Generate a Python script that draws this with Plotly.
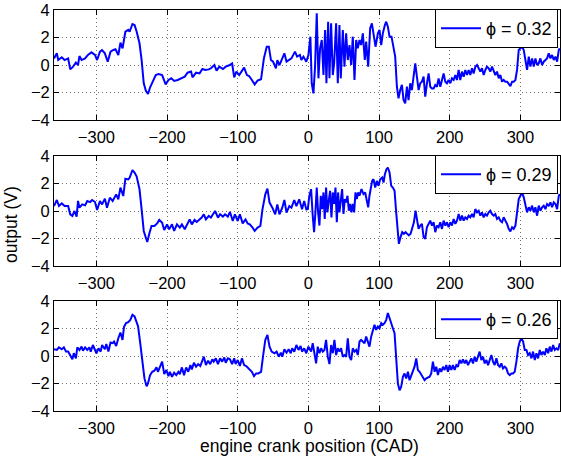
import plotly.graph_objects as go

# (crank angle CAD, output V) readings for each equivalence ratio
phi_labels = ["ϕ = 0.32", "ϕ = 0.29", "ϕ = 0.26"]

signal_032 = [
(-360,0.48),(-356,0.85),(-354,0.36),(-349,0.56),(-345,0.36),(-340,0.48),(-337,-0.32),(-333,-0.12),(-329,0.17),(-326,0),(-324,0.65),(-321,0.36),(-316,0.48),(-312,0.73),(-307,0.92),(-302,0.73),(-299,0.36),(-295,0.97),(-292,1.09),(-288,0.85),(-284,0.24),(-280,0.97),(-276,1.09),(-273,1.14),(-269,0.73),(-266,1.62),(-263,1.21),(-259,2.42),(-255,2.55),(-253,2.42),(-249,2.98),(-246,2.91),(-243,2.42),(-239,1.58),(-236,0.36),(-233,-1.33),(-230,-1.87),(-227,-2.11),(-224,-1.62),(-220,-1.21),(-216,-0.73),(-212,-0.65),(-207,-0.73),(-202,-1.41),(-198,-1.09),(-194,-0.97),(-190,-1.16),(-185,-1.09),(-180,-0.97),(-175,-0.85),(-171,-0.56),(-166,-0.48),(-164,-0.9),(-159,-0.56),(-154,-0.61),(-150,-0.29),(-146,-0.36),(-141,-0.32),(-138,-0.24),(-133,0),(-130,-0.41),(-126,-0.12),(-121,-0.29),(-117,-0.12),(-112,-0.02),(-108,0.12),(-105,-0.9),(-102,-0.48),(-98,-0.73),(-94,-0.36),(-91,-0.19),(-87,-0.73),(-84,-0.8),(-80,-1.09),(-76,-1.41),(-72,-1.14),(-67,-1.04),(-63,0.48),(-59,1.33),(-56,1.33),(-53,0.36),(-50,0.24),(-46,-0.24),(-44,0.36),(-41,0),(-38,0.36),(-34,0.85),(-31,0.24),(-27,0.41),(-24,0.48),(-19,0.97),(-16,0.61),(-12,0.73),(-10,0.36),(-7,0.61),(-3,0.24),
(0,0.73),(2.8,2.06),(4.7,-1.33),(7.1,-2.06),(9.4,-0.12),(11.8,3.76),(14.2,-0.97),(16.5,1.21),(18.9,1.82),(21.3,-0.73),(23.6,2.55),(25.5,-1.33),(27.9,3.15),(29.8,-0.97),(32.1,3.03),(34.5,-0.73),(36.4,0.12),(39.2,3.03),(41.6,-1.33),(43.9,2.91),(45.8,-0.97),(48.7,2.55),(51,-0.12),(53.4,2.3),(55.7,0.36),(58.1,1.45),(60.5,0),(62.8,2.06),(65.2,-1.09),(67.6,1.82),(69.9,1.21),(72.3,1.82),(74.6,1.45),(77,2.3),(79.8,0.36),(81.7,1.7),(84.6,-0.12),(87.4,2.67),(89.8,3.03),(92.1,2.18),(95,1.33),(98.3,2.3),(100.6,2.55),(103,1.45),(105.3,2.3),(108.2,2.91),(110.1,3.15),(112.4,2.79),(114.8,2.06),(117.6,2.06),(120.5,1.09),(122.8,0.61),(125.2,-1.58),(127.5,-2.42),(129.9,-1.82),(132.3,-1.45),(134.6,-2.55),(137,-2.79),(139.4,-1.58),(141.7,-2.55),(144.1,-1.33),(146.4,-1.82),(148.8,-0.85),(151.2,0.12),(153.5,-0.85),(155.9,-1.82),(158.3,-1.33),(160.6,-1.21),(163,-0.85),(165.3,-2.3),(167.7,-1.33),(170.1,-0.61),(172.4,-1.58),(174.8,-1.7),(177.2,-1.7),(179.5,-1.45),(181.9,-1.58),(184.2,-0.97),(186.6,-1.58),(189,-1.09),(191.3,-0.61),(193.7,-1.21),(196,-1.33),(198.4,-1.09),(200.8,-1.33),(203.1,-0.97),(205.5,-1.09),(207.9,-0.73),(210.2,-1.09),(212.6,-0.36),(214.9,-1.09),(217.3,-0.48),(219.7,-0.85),(222,-0.36),(224.4,-0.73),(226.7,-0.36),(229.1,-0.73),(231.5,-0.24),(233.8,-0.61),(236.2,-0.12),(238.6,0),(240.9,-0.24),(243.3,-0.48),(245.6,-0.24),(248,-0.73),(250.4,-0.36),(252.7,-0.12),(255.1,-0.24),(257.4,-0.48),(259.8,-0.12),(262.2,-0.48),(264.5,-0.73),(266.9,-0.48),(269.3,-0.97),(271.6,-0.73),(274,-1.21),(276.3,-1.09),(278.7,-1.21),(281.1,-1.21),(283.4,-1.33),(285.8,-1.53),(288.2,-1.21),(290.5,-1.21),(292.9,-1.09),(295.2,-0.36),(297.6,1.09),(300,1.21),(302.3,1.33),(304.7,1.09),(307,0.24),(309.4,-0.36),(311.8,0.61),(314.1,-0.12),(316.5,0.48),(318.9,-0.12),(321.2,0.48),(323.6,0),(325.9,0.12),(328.3,0.48),(330.7,0),(333,0.24),(335.4,0.36),(337.7,0.48),(340.1,0.85),(342.5,0.48),(344.8,0.73),(347.2,0.36),(349.6,0.61),(351.9,0.24),(354.3,1.09),(355.7,1.21),
]

signal_029 = [
(-360,0.36),(-356,0.8),(-353,0.36),(-349,0.56),(-345,0.36),(-340,0.36),(-337,-0.24),(-334,-0.36),(-331,0),(-328,-0.41),(-326,0.73),(-324,0.24),(-320,0.48),(-316,0.41),(-313,0.73),(-309,0.65),(-306,0.8),(-302,0.65),(-299,0.07),(-295,0.73),(-292,0.48),(-288,0.9),(-285,0.24),(-281,0.97),(-277,0.73),(-274,1.09),(-272,1.21),(-269,0.85),(-266,1.7),(-262,1.09),(-259,2.35),(-255,2.3),(-253,2.42),(-249,2.98),(-246,2.79),(-243,2.5),(-239,1.58),(-236,0.12),(-233,-1.45),(-230,-1.94),(-228,-2.25),(-225,-1.62),(-222,-1.09),(-218,-1.09),(-214,-0.9),(-211,-0.65),(-207,-0.85),(-204,-1.38),(-200,-0.97),(-197,-1.33),(-193,-0.97),(-190,-1.45),(-186,-0.97),(-182,-1.21),(-179,-0.97),(-175,-1.33),(-172,-0.97),(-168,-0.61),(-165,-0.97),(-161,-0.65),(-158,-0.8),(-154,-0.61),(-151,-0.48),(-148,-0.24),(-145,-0.61),(-141,-0.36),(-138,-0.48),(-135,-0.24),(-132,0),(-128,-0.48),(-125,-0.24),(-121,-0.41),(-118,-0.24),(-114,-0.41),(-111,-0.07),(-107,-0.73),(-104,-0.24),(-100,-0.73),(-97,-0.24),(-93,-0.9),(-89,-0.61),(-86,-0.9),(-83,-0.97),(-79,-1.21),(-76,-1.45),(-72,-1.21),(-68,-1.09),(-65,0.12),(-61,1.21),(-58,1.62),(-55,0.61),(-51,0.24),(-47,-0.24),(-44,0.48),(-41,-0.24),(-37,0.24),(-34,0.8),(-31,-0.12),(-27,0.36),(-24,0.24),(-20,0.8),(-17,0.36),(-13,0.85),(-9,0.12),(-6,0.73),(-3,0.12),
(-0.9,0.14),(1.4,1.11),(3.8,1.59),(6.1,-0.34),(8,-1.54),(9.9,-0.1),(11.8,1.71),(13.7,-0.1),(15.6,-1.06),(17.5,1.11),(19.4,0.14),(21.3,1.35),(23.1,-0.58),(25,1.71),(26.9,-0.1),(28.8,0.75),(30.7,1.47),(32.6,-0.46),(34.5,1.35),(36.4,0.51),(38.3,1.71),(40.2,-0.82),(42,1.35),(43.9,-0.1),(45.8,0.87),(47.7,1.59),(49.6,-0.22),(51.5,0.87),(53.4,0.63),(55.3,1.11),(57.2,0.02),(59,0.51),(60.9,-0.1),(62.8,0.51),(64.7,-0.1),(66.6,1.35),(68.5,0.87),(70.4,1.35),(72.3,1.11),(75.1,1.59),(77.9,1.23),(80.3,1.35),(82.7,0.75),(84.6,0.27),(86.4,1.11),(88.3,1.83),(90.2,2.19),(92.1,2.31),(94.5,1.71),(96.8,2.19),(99.2,1.83),(101.6,2.31),(104.4,2.43),(106.3,2.07),(108.2,2.67),(110.5,3.04),(112.4,3.16),(114.8,2.8),(117.2,1.83),(119.5,1.71),(121.9,1.47),(124.2,-0.1),(126.6,-2.02),(128,-2.39),(130.4,-1.9),(132.7,-1.54),(135.1,-1.66),(137.5,-1.54),(139.8,-1.66),(142.2,-1.78),(144.6,-1.66),(146.9,-1.18),(149.3,-0.82),(151.6,0.02),(153.5,-0.58),(155.9,-1.3),(158.3,-1.06),(160.6,-0.94),(163,-1.9),(165.3,-2.02),(167.7,-1.18),(170.1,-0.94),(172.4,-0.7),(174.8,-1.06),(177.2,-0.82),(179.5,-1.54),(181.9,-1.06),(184.2,-1.18),(186.6,-0.82),(189,-1.3),(191.3,-0.7),(193.7,-1.06),(196,-0.82),(198.4,-1.18),(200.8,-0.82),(203.1,-1.06),(205.5,-0.58),(207.9,-0.94),(210.2,-0.7),(212.6,-0.22),(214.9,-0.7),(217.3,-0.34),(219.7,-0.7),(222,-0.46),(224.4,-0.58),(226.7,-0.34),(229.1,-0.46),(231.5,-0.22),(233.8,-0.46),(236.2,0.14),(238.6,-0.1),(240.9,0.02),(243.3,-0.34),(245.6,-0.1),(248,-0.46),(250.4,-0.22),(252.7,-0.34),(255.1,-0.1),(257.4,0.02),(259.8,-0.22),(262.2,-0.34),(264.5,-0.22),(266.9,-0.58),(269.3,-0.46),(271.6,-0.7),(274,-0.82),(276.3,-0.46),(278.7,-0.7),(281.1,-0.94),(283.4,-1.3),(285.8,-1.49),(288.2,-1.18),(290.5,-1.3),(292.9,-1.06),(295.2,0.14),(297.6,0.87),(300,1.11),(302.3,1.35),(304.7,0.99),(307,0.39),(309.4,-0.1),(311.8,0.27),(314.1,0.02),(316.5,0.39),(318.9,-0.1),(321.2,0.27),(323.6,-0.34),(325.9,0.39),(328.3,0.02),(330.7,0.27),(333,0.39),(335.4,0.14),(337.7,0.51),(340.1,0.39),(342.5,0.63),(344.8,0.27),(347.2,0.63),(349.6,0.51),(351.9,0.14),(354.3,1.11),(355.7,1.23),
]

signal_026 = [
(-360,0.49),(-356,0.44),(-353,0.63),(-349,0.49),(-346,0.63),(-343,0.32),(-340,0.32),(-337,0.07),(-334,-0.24),(-332,0.2),(-329,-0.17),(-327,0.63),(-324,0.44),(-321,0.68),(-319,0.39),(-316,0.63),(-313,0.44),(-310,0.63),(-308,0.32),(-305,0.8),(-302,0.44),(-300,0.2),(-297,0.56),(-294,0.32),(-292,0.8),(-288,0.49),(-286,0.88),(-283,0.32),(-280,0.98),(-277,0.93),(-275,1.05),(-272,0.73),(-269,1.29),(-266,1.71),(-263,1.17),(-261,2.1),(-258,2.39),(-255,2.46),(-252,2.63),(-249,3.0),(-246,2.88),(-244,2.59),(-241,2.15),(-238,0.93),(-235,-0.54),(-232,-1.63),(-229,-2.2),(-227,-2.0),(-224,-1.39),(-221,-1.15),(-218,-1.07),(-215,-0.83),(-213,-1.15),(-210,-0.78),(-207,-0.41),(-204,-1.32),(-201,-1.02),(-198,-1.46),(-196,-1.15),(-193,-1.51),(-190,-1.22),(-187,-1.39),(-184,-1.15),(-182,-1.32),(-179,-0.83),(-176,-1.39),(-173,-0.83),(-170,-1.15),(-167,-0.66),(-165,-0.98),(-162,-0.49),(-159,-0.78),(-156,-0.59),(-153,-0.73),(-151,-0.41),(-148,-0.05),(-145,-0.66),(-142,-0.34),(-139,-0.59),(-136,-0.24),(-134,-0.41),(-131,-0.17),(-128,-0.59),(-125,-0.17),(-122,-0.41),(-119,-0.1),(-117,-0.49),(-114,-0.17),(-111,-0.24),(-108,-0.59),(-105,-0.17),(-103,-0.59),(-100,-0.29),(-97,-0.73),(-94,-0.17),(-91,-0.66),(-88,-0.73),(-86,-0.83),(-83,-1.02),(-80,-1.15),(-77,-1.46),(-74,-1.27),(-71,-1.27),(-67,-1.15),(-64,0.07),(-61,1.17),(-58,1.54),(-55,0.68),(-52,0.32),(-48,0.2),(-45,0.32),(-42,-0.05),(-39,0.24),(-37,-0.05),(-34,0.49),(-31,0.24),(-28,0.49),(-25,0.2),(-23,0.56),(-20,0.32),(-17,0.8),(-14,0.44),(-11,0.73),(-9,0.32),(-6,0.56),(-3,0.2),(0,0.68),
(1.4,0.56),(3.8,0.32),(6.1,0.93),(8.5,0.2),(10.9,-0.54),(13.2,0.68),(15.6,0.2),(18,0.56),(20.3,0.32),(22.7,0.44),(25,1.17),(27.4,-0.05),(29.8,-0.59),(32.1,0.8),(34.5,0.2),(36.8,1.17),(39.2,0.07),(41.6,0.56),(43.9,0.32),(46.3,0.56),(48.7,-0.05),(51,0.07),(53.4,-0.05),(55.7,1.29),(58.1,-0.05),(60.5,-0.29),(62.8,0.56),(65.2,0.32),(67.6,0.44),(69.9,0.07),(72.3,1.05),(74.6,1.17),(77,1.05),(79.4,0.93),(81.7,1.41),(84.1,0.93),(86.4,0.68),(88.8,1.41),(91.2,1.78),(93.5,2.27),(95.9,1.9),(98.3,2.15),(100.6,2.02),(103,2.39),(105.3,2.27),(107.7,2.39),(110.1,2.63),(112.4,3.12),(114.8,2.76),(117.2,2.27),(119.5,2.02),(121.9,1.66),(124.2,-0.29),(126.6,-2.0),(129,-2.49),(131.3,-2.24),(133.7,-1.51),(136,-1.27),(138.4,-1.63),(140.8,-1.15),(143.1,-1.76),(145.5,-1.39),(147.9,-1.15),(150.2,-0.78),(152.6,-0.17),(154.9,-1.02),(157.3,-1.15),(159.7,-1.39),(162,-1.51),(164.4,-1.76),(166.8,-1.63),(169.1,-1.56),(171.5,-1.51),(173.8,-1.27),(176.2,-0.41),(178.6,-1.15),(180.9,-0.78),(183.3,-1.39),(185.7,-0.9),(188,-1.15),(190.4,-0.78),(192.7,-1.02),(195.1,-0.66),(197.5,-1.15),(199.8,-0.66),(202.2,-1.02),(204.5,-0.66),(206.9,-1.02),(209.3,-0.66),(211.6,-0.78),(214,-0.29),(216.4,-0.54),(218.7,-0.24),(221.1,-0.54),(223.4,-0.29),(225.8,-0.66),(228.2,-0.41),(230.5,-0.17),(232.9,-0.54),(235.3,-0.05),(237.6,-0.41),(240,0.07),(242.3,0.32),(244.7,-0.29),(247.1,-0.05),(249.4,-0.54),(251.8,-0.29),(254.2,-0.66),(256.5,-0.29),(258.9,0.07),(261.2,-0.41),(263.6,-0.66),(266,-0.17),(268.3,-0.66),(270.7,-0.78),(273,-0.54),(275.4,-0.9),(277.8,-0.78),(280.1,-0.9),(282.5,-1.27),(284.9,-1.39),(287.2,-1.27),(289.6,-1.27),(291.9,-1.15),(294.3,-0.41),(296.7,0.56),(299,1.05),(301.4,1.29),(303.8,1.05),(306.1,0.44),(308.5,0.44),(310.8,0.07),(313.2,0.2),(315.6,-0.17),(317.9,0.32),(320.3,-0.29),(322.7,0.2),(325,-0.17),(327.4,0.44),(329.7,0.07),(332.1,0.32),(334.5,0.07),(336.8,0.56),(339.2,0.2),(341.5,0.68),(343.9,0.32),(346.3,0.8),(348.6,0.44),(351,0.56),(353.4,0.44),(355.7,0.93),
]

x_ticks = [-300, -200, -100, 0, 100, 200, 300]
y_ticks = [-4, -2, 0, 2, 4]
x_title = "engine crank position (CAD)"
y_title = "output (V)"

FONT = "Liberation Sans, Arial, sans-serif"
W, H = 561, 457
L, R, T, B = 54, 1, 10, 46
plot_w = W - L - R
plot_h = H - T - B

def frac(top_px, bottom_px):
    return [(H - B - bottom_px) / plot_h, (H - B - top_px) / plot_h]

panels_px = [(10, 120), (156, 266), (301, 411)]
series = [signal_032, signal_029, signal_026]
legend_names = ["legend", "legend2", "legend3"]

fig = go.Figure()
layout = dict(
    template="none",
    width=W, height=H,
    margin=dict(l=L, r=R, t=T, b=B, autoexpand=False),
    paper_bgcolor="white", plot_bgcolor="white",
    font=dict(family=FONT, size=17, color="black"),
    showlegend=True,
)

for i, (sig, name, lg) in enumerate(zip(series, phi_labels, legend_names)):
    xs = [p[0] for p in sig]
    ys = [p[1] for p in sig]
    ax = "" if i == 0 else str(i + 1)
    fig.add_trace(go.Scatter(
        x=xs, y=ys, mode="lines", name=name,
        line=dict(color="#0000ff", width=2),
        xaxis="x" + ax, yaxis="y" + ax, legend=lg,
    ))
    top_px, bot_px = panels_px[i]
    common = dict(
        showline=True, linecolor="black", linewidth=1, mirror="ticks",
        ticks="inside", ticklen=5, tickcolor="black", tickwidth=1,
        showgrid=True, gridcolor="#707070", griddash="1px,3px", gridwidth=1,
        zeroline=False, automargin=False,
        tickfont=dict(family=FONT, size=16.5, color="black"),
    )
    layout["xaxis" + ax] = dict(
        common, range=[-360, 356], tickvals=x_ticks, domain=[0, 1],
        anchor="y" + ax, ticklabelstandoff=2,
    )
    layout["yaxis" + ax] = dict(
        common, range=[-4, 4], tickvals=y_ticks, domain=frac(top_px, bot_px),
        anchor="x" + ax, ticklabelstandoff=0,
    )
    leg_mid = top_px + 18.5
    layout[lg] = dict(
        x=(558 - L) / plot_w, xanchor="right",
        y=(H - B - leg_mid) / plot_h, yanchor="middle",
        bgcolor="white", bordercolor="black", borderwidth=1,
        font=dict(family=FONT, size=18, color="black"),
        itemwidth=40, tracegroupgap=0, entrywidth=82,
    )

layout["annotations"] = [
    dict(text=x_title, xref="paper", yref="paper", x=(309 - L) / plot_w,
         y=(H - B - 446) / plot_h,
         xanchor="center", yanchor="middle", showarrow=False,
         font=dict(family=FONT, size=17.5, color="black")),
    dict(text=y_title, xref="paper", yref="paper", x=(11 - L) / plot_w,
         y=(H - B - 225) / plot_h, xanchor="center", yanchor="middle",
         textangle=-90, showarrow=False, font=dict(family=FONT, size=17.5, color="black")),
]

fig.update_layout(**layout)
fig.write_html(
    "out.html",
    config={"displayModeBar": False},
    post_script="document.body.style.margin='0';document.body.style.padding='0';"
                "document.documentElement.style.overflow='hidden';",
)
